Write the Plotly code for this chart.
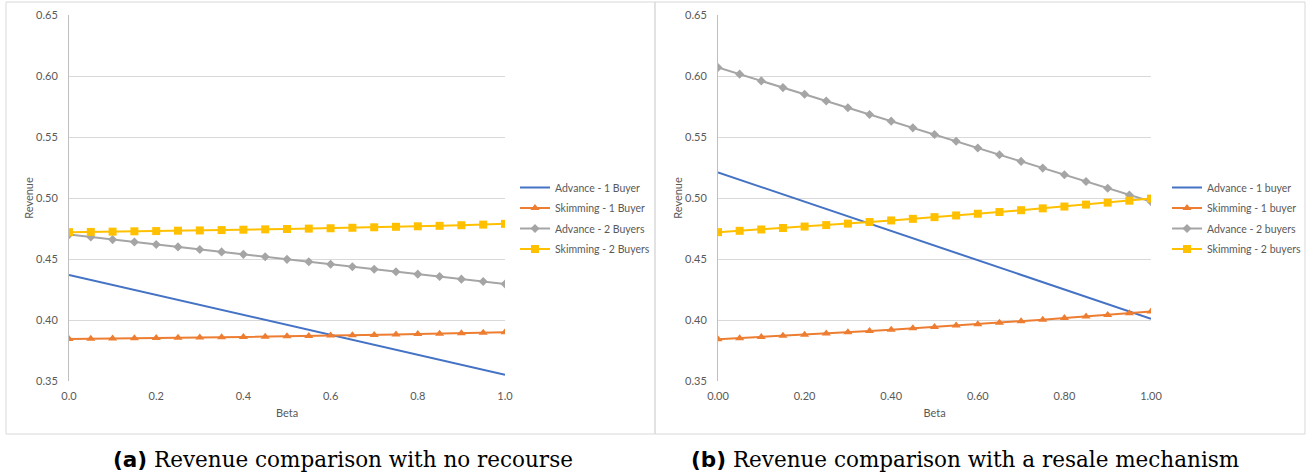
import plotly.graph_objects as go

# Beta grid shared by both panels
beta = [0.00, 0.05, 0.10, 0.15, 0.20, 0.25, 0.30, 0.35, 0.40, 0.45, 0.50,
        0.55, 0.60, 0.65, 0.70, 0.75, 0.80, 0.85, 0.90, 0.95, 1.00]

# Panel (a): no recourse
a_adv1 = [0.4370, 0.4329, 0.4288, 0.4247, 0.4206, 0.4165, 0.4124, 0.4083, 0.4042, 0.4001, 0.3960,
          0.3919, 0.3878, 0.3837, 0.3796, 0.3755, 0.3714, 0.3673, 0.3632, 0.3591, 0.3550]
a_skim1 = [0.3845, 0.3846, 0.3848, 0.3850, 0.3852, 0.3854, 0.3856, 0.3858, 0.3861, 0.3863, 0.3866,
           0.3869, 0.3872, 0.3875, 0.3878, 0.3881, 0.3885, 0.3888, 0.3892, 0.3896, 0.3900]
a_adv2 = [0.4700, 0.4680, 0.4659, 0.4639, 0.4619, 0.4599, 0.4578, 0.4558, 0.4538, 0.4518, 0.4497,
          0.4477, 0.4457, 0.4437, 0.4416, 0.4396, 0.4376, 0.4356, 0.4335, 0.4315, 0.4295]
a_skim2 = [0.4720, 0.4722, 0.4724, 0.4727, 0.4729, 0.4732, 0.4734, 0.4737, 0.4740, 0.4743, 0.4746,
           0.4749, 0.4752, 0.4756, 0.4760, 0.4764, 0.4768, 0.4772, 0.4777, 0.4782, 0.4788]

# Panel (b): resale mechanism
b_adv1 = [0.521, 0.515, 0.509, 0.503, 0.497, 0.491, 0.485, 0.479, 0.473, 0.467, 0.461,
          0.455, 0.449, 0.443, 0.437, 0.431, 0.425, 0.419, 0.413, 0.407, 0.401]
b_skim1 = [0.3842, 0.3851, 0.3860, 0.3870, 0.3880, 0.3890, 0.3900, 0.3910, 0.3921, 0.3932, 0.3943,
           0.3954, 0.3966, 0.3978, 0.3990, 0.4003, 0.4016, 0.4029, 0.4042, 0.4056, 0.4070]
b_adv2 = [0.6070, 0.6015, 0.5960, 0.5905, 0.5850, 0.5795, 0.5740, 0.5685, 0.5630, 0.5575, 0.5520,
          0.5465, 0.5410, 0.5355, 0.5300, 0.5245, 0.5190, 0.5135, 0.5080, 0.5025, 0.4970]
b_skim2 = [0.4720, 0.4731, 0.4742, 0.4754, 0.4766, 0.4778, 0.4790, 0.4803, 0.4816, 0.4829, 0.4843,
           0.4857, 0.4871, 0.4885, 0.4900, 0.4915, 0.4930, 0.4946, 0.4962, 0.4978, 0.4995]

names_a = ["Advance - 1 Buyer", "Skimming - 1 Buyer", "Advance - 2 Buyers", "Skimming - 2 Buyers"]
names_b = ["Advance - 1 buyer", "Skimming - 1 buyer", "Advance - 2 buyers", "Skimming - 2 buyers"]
y_ticks = [0.35, 0.40, 0.45, 0.50, 0.55, 0.60, 0.65]
x_ticks = [0.0, 0.2, 0.4, 0.6, 0.8, 1.0]
caption_tags = ["(a)", "(b)"]
caption_texts = ["Revenue comparison with no recourse", "Revenue comparison with a resale mechanism"]

BLUE, ORANGE, GRAY, GOLD = "#4472C4", "#ED7D31", "#A5A5A5", "#FFC000"
styles = [
    dict(color=BLUE, mode="lines", marker=None),
    dict(color=ORANGE, mode="lines+markers", marker=dict(symbol="triangle-up", size=8)),
    dict(color=GRAY, mode="lines+markers", marker=dict(symbol="diamond", size=7)),
    dict(color=GOLD, mode="lines+markers", marker=dict(symbol="square", size=8)),
]

fig = go.Figure()

def add_panel(series, names, xaxis, yaxis, legend, tag):
    for i, (ys, nm, st) in enumerate(zip(series, names, styles)):
        kw = dict(x=beta, y=ys, name=nm, mode=st["mode"],
                  line=dict(color=st["color"], width=2),
                  xaxis=xaxis, yaxis=yaxis, legend=legend,
                  legendgroup=f"{tag}{i}")
        if st["marker"]:
            kw["marker"] = dict(color=st["color"], **st["marker"])
        fig.add_trace(go.Scatter(**kw))

add_panel([a_adv1, a_skim1, a_adv2, a_skim2], names_a, "x", "y", "legend", "a")
add_panel([b_adv1, b_skim1, b_adv2, b_skim2], names_b, "x2", "y2", "legend2", "b")

W, H = 1307, 475
SANS = "Lato, Open Sans, sans-serif"
tick_font = dict(family=SANS, size=11, color="#595959")

def xaxis_cfg(x0, x1, fmt, anchor):
    return dict(domain=[x0 / W, x1 / W], range=[0, 1], tickvals=x_ticks, tickformat=fmt,
                showgrid=False, zeroline=False, showline=False,
                ticks="outside", ticklen=5, tickcolor="rgba(0,0,0,0)",
                tickfont=tick_font, anchor=anchor, automargin=False,
                title=dict(text="Beta", font=tick_font, standoff=8))

def yaxis_cfg(anchor):
    return dict(domain=[(H - 381) / H, (H - 15) / H], range=[0.35, 0.65], tickvals=y_ticks,
                tickformat=".2f", showgrid=True, gridcolor="#D9D9D9", gridwidth=1,
                zeroline=False, showline=True, linecolor="#BFBFBF", linewidth=1,
                ticks="outside", ticklen=8, tickcolor="rgba(0,0,0,0)",
                tickfont=tick_font, anchor=anchor, automargin=False,
                title=dict(text="Revenue", font=tick_font, standoff=0))

legend_font = dict(family=SANS, size=10.5, color="#595959")

fig.update_layout(
    width=W, height=H,
    margin=dict(l=0, r=0, t=0, b=0),
    paper_bgcolor="white", plot_bgcolor="white",
    xaxis=xaxis_cfg(69, 505, ".1f", "y"),
    yaxis=yaxis_cfg("x"),
    xaxis2=xaxis_cfg(718, 1151, ".2f", "y2"),
    yaxis2=yaxis_cfg("x2"),
    legend=dict(x=515 / W, y=(H - 173) / H, xanchor="left", yanchor="top",
                font=legend_font, bgcolor="rgba(0,0,0,0)", tracegroupgap=1.5),
    legend2=dict(x=1167 / W, y=(H - 173) / H, xanchor="left", yanchor="top",
                 font=legend_font, bgcolor="rgba(0,0,0,0)", tracegroupgap=1.5),
    showlegend=True,
)

# Panel frames
for x0, x1 in [(6, 655), (655, 1305)]:
    fig.add_shape(type="rect", xref="paper", yref="paper",
                  x0=x0 / W, x1=x1 / W, y0=(H - 434) / H, y1=(H - 2) / H,
                  line=dict(color="#D9D9D9", width=1), fillcolor="rgba(0,0,0,0)", layer="below")

cap_font = dict(family="DejaVu Serif, serif", size=21.5, color="black")
for cx, tag, txt in zip([343, 965], caption_tags, caption_texts):
    fig.add_annotation(xref="paper", yref="paper", x=cx / W, y=(H - 459) / H,
                       text=f"<span style='font-family:DejaVu Sans;font-weight:bold'>{tag}</span> {txt}",
                       showarrow=False, font=cap_font,
                       xanchor="center", yanchor="middle")

fig.write_html("out.html")
